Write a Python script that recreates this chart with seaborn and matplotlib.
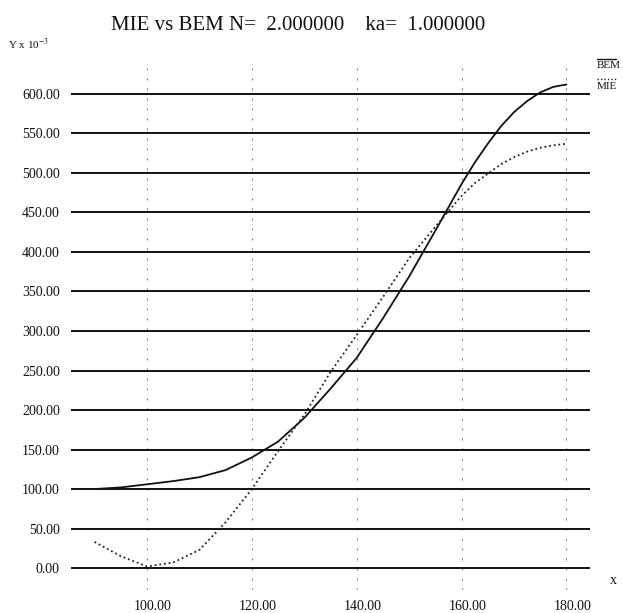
import matplotlib
matplotlib.use("Agg")
import matplotlib.pyplot as plt
import matplotlib.transforms as mtransforms
from matplotlib.lines import Line2D
import seaborn as sns
import pandas as pd

# ---- data ----
x_vals = [90, 95, 100, 105, 110, 115, 120, 125, 130, 135, 140, 145, 150, 155, 160, 162.5, 165, 167.5,
          170, 172.5, 175, 177.5, 180]
bem_vals = [100, 102, 106, 110, 115, 124, 140, 160, 190, 227, 266, 316, 369, 427, 486, 513, 537, 559,
            577, 591, 602, 609, 612]
mie_vals = [33, 15, 2, 7, 23, 58, 100, 148, 194, 248, 295, 343, 392, 432, 471, 487, 499, 511,
            520, 527, 532, 535, 537]
x_ticks = [100, 120, 140, 160, 180]
y_ticks = [0, 50, 100, 150, 200, 250, 300, 350, 400, 450, 500, 550, 600]
title_text = "MIE vs BEM N=  2.000000    ka=  1.000000"

sns.set_theme(style="white")
plt.rcParams["font.family"] = ["Liberation Serif", "DejaVu Serif"]
plt.rcParams["mathtext.fontset"] = "stix"

fig = plt.figure(figsize=(6.23, 6.13), dpi=100)
ax = fig.add_axes([71 / 623, 23 / 613, 519 / 623, 530 / 613])

df_bem = pd.DataFrame({"x": x_vals, "y": bem_vals})
df_mie = pd.DataFrame({"x": x_vals, "y": mie_vals})
sns.lineplot(data=df_bem, x="x", y="y", ax=ax, color="#111111", linewidth=1.3, zorder=4)
sns.lineplot(data=df_mie, x="x", y="y", ax=ax, color="#222222", linewidth=1.3,
             linestyle=(0, (1, 1.6)), zorder=4)

ax.set_xlim(85.5, 184.5)
ax.set_ylim(-27.8, 643)
ax.set_xticks(x_ticks)
ax.set_yticks(y_ticks)
ax.set_xticklabels([f"{v:.2f}" for v in x_ticks], fontsize=10)
ax.set_yticklabels([f"{v:.2f}" for v in y_ticks], fontsize=10)
ax.tick_params(axis="both", length=0, colors="#111111")
ax.tick_params(axis="x", pad=7)
ax.tick_params(axis="y", pad=8)
for lab in ax.get_xticklabels():
    lab.set_transform(lab.get_transform() + mtransforms.ScaledTranslation(6 / 100, 0, fig.dpi_scale_trans))

ax.grid(axis="y", color="#111111", linewidth=1.4, linestyle="-")
ax.grid(axis="x", color="#8a8a8a", linewidth=0.8, linestyle=(0, (2, 7)))
for s in ax.spines.values():
    s.set_visible(False)
ax.set_xlabel("")
ax.set_ylabel("")

# title and axis annotations
fig.text(298 / 623, 1 - 30 / 613, title_text, ha="center", va="baseline", fontsize=15, color="#111111")
fig.text(8 / 623, 1 - 49 / 613, r"Y x 10$^{-3}$", ha="left", va="baseline", fontsize=8, color="#111111")
fig.text(610 / 623, 1 - 581 / 613, "x", ha="left", va="center", fontsize=10, color="#111111")

# legend with line samples drawn above labels
fig.text(597 / 623, 1 - 68 / 613, "BEM", ha="left", va="baseline", fontsize=8, color="#111111")
fig.text(597 / 623, 1 - 89 / 613, "MIE", ha="left", va="baseline", fontsize=8, color="#111111")
fig.add_artist(Line2D([597 / 623, 616 / 623], [1 - 59 / 613, 1 - 59 / 613], transform=fig.transFigure,
                      color="#111111", linewidth=1.0))
fig.add_artist(Line2D([597 / 623, 616 / 623], [1 - 79 / 613, 1 - 79 / 613], transform=fig.transFigure,
                      color="#222222", linewidth=1.0, linestyle=(0, (1, 1.5))))

fig.savefig("out.png", dpi=100)
